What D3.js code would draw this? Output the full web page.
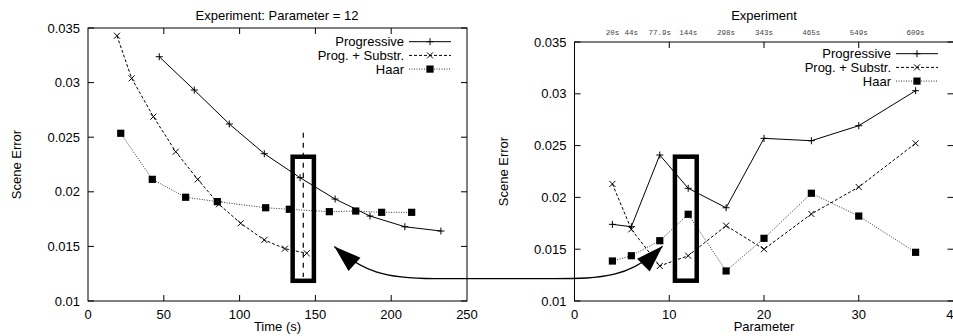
<!DOCTYPE html>
<html>
<head>
<meta charset="utf-8">
<script src="https://cdn.jsdelivr.net/npm/d3@7"></script>
<style>
  body { margin: 0; background: #fff; }
  text { font-family: "Liberation Sans", Arial, sans-serif; fill: #000; }
</style>
</head>
<body>
<svg id="chart" width="953" height="336"></svg>
<script>
// ---- left panel: error over time, parameter = 12
const timeProg  = [47, 70.1, 93.2, 116.3, 139.9, 163, 186, 209, 232.8];
const errProg   = [0.03237, 0.02932, 0.02621, 0.02349, 0.02129, 0.01934, 0.01778, 0.0168, 0.01641];
const timeSub   = [19.1, 28.8, 43.1, 57.9, 72.4, 86.4, 100.7, 116.3, 129.9, 144.3];
const errSub    = [0.03429, 0.03039, 0.02688, 0.02367, 0.02114, 0.01886, 0.01712, 0.01559, 0.01479, 0.01437];
const timeHaar  = [21.6, 42.4, 64.4, 85.3, 117.2, 132.8, 159.2, 176.6, 193.7, 213.5];
const errHaar   = [0.02536, 0.02114, 0.0195, 0.0191, 0.01854, 0.0184, 0.01818, 0.01824, 0.01812, 0.01812];
const timeTicks = [0, 50, 100, 150, 200, 250];

// ---- right panel: error per parameter
const params      = [4, 6, 9, 12, 16, 20, 25, 30, 36];
const paramTimes  = ['20s', '44s', '77.9s', '144s', '298s', '343s', '465s', '549s', '609s'];
const errProgP    = [0.0174, 0.01717, 0.02409, 0.02088, 0.019, 0.0257, 0.02547, 0.02692, 0.0303];
const errSubP     = [0.0213, 0.01692, 0.01338, 0.01437, 0.01727, 0.015, 0.0184, 0.021, 0.02522];
const errHaarP    = [0.01386, 0.01437, 0.01582, 0.01837, 0.0129, 0.01605, 0.0204, 0.0182, 0.0147];
const paramTicks  = [0, 10, 20, 30, 40];

const errTicks = [0.01, 0.015, 0.02, 0.025, 0.03, 0.035];
const seriesNames = ['Progressive', 'Prog. + Substr.', 'Haar'];

// annotations (data units of each panel)
const markTime = 142;              // vertical marker, left panel
const markSpan = [0.0122, 0.0254];
const boxLeft  = {x: [135, 149], y: [0.01185, 0.02321]};
const boxRight = {x: [10.6, 12.9], y: [0.01196, 0.02393]};
const arrowFrom = [162.5, 0.0150];  // left panel
const arrowTo   = [9.3, 0.0153];    // right panel
const arrowLevel = 0.0121;

const styles = [
  {dash: null, marker: 'plus', color: '#000'},
  {dash: '3,2', marker: 'cross', color: '#000'},
  {dash: '1,1.5', marker: 'square', color: '#333'}
];

const svg = d3.select('#chart');

svg.append('defs').append('marker')
  .attr('id', 'head')
  .attr('viewBox', '-28 -10 29 20')
  .attr('refX', 0).attr('refY', 0)
  .attr('markerUnits', 'userSpaceOnUse')
  .attr('markerWidth', 29).attr('markerHeight', 20)
  .attr('orient', 'auto-start-reverse')
  .append('path').attr('d', 'M0,0L-27,-9L-27,9Z').attr('fill', '#000');

function drawMarker(g, type, x, y) {
  if (type === 'plus') {
    g.append('path').attr('d', `M${x-3.5},${y}H${x+3.5}M${x},${y-3.5}V${y+3.5}`)
      .attr('stroke', '#000').attr('stroke-width', 1);
  } else if (type === 'cross') {
    g.append('path').attr('d', `M${x-3},${y-3}L${x+3},${y+3}M${x-3},${y+3}L${x+3},${y-3}`)
      .attr('stroke', '#000').attr('stroke-width', 1);
  } else {
    g.append('rect').attr('x', x-3.6).attr('y', y-3.6).attr('width', 7.2).attr('height', 7.2)
      .attr('fill', '#000');
  }
}

function panel(opt) {
  const x = d3.scaleLinear().domain(opt.xDomain).range(opt.xRange);
  const y = d3.scaleLinear().domain([0.01, 0.035]).range([301, opt.top]);
  const g = svg.append('g');
  const [x0, x1] = opt.xRange, y0 = 301, y1 = opt.top;

  // frame
  g.append('rect').attr('x', x0).attr('y', y1).attr('width', x1 - x0).attr('height', y0 - y1)
    .attr('fill', 'none').attr('stroke', '#000').attr('stroke-width', 1);

  // y ticks, mirrored on the right
  errTicks.forEach(v => {
    const yy = y(v);
    g.append('path').attr('d', `M${x0},${yy}h6M${x1},${yy}h-6`).attr('stroke', '#000');
    g.append('text').attr('x', x0 - 8).attr('y', yy + 4.5).attr('text-anchor', 'end')
      .style('font-size', '13px').text(v);
  });
  // x ticks, mirrored on top
  opt.xTicks.forEach(v => {
    const xx = x(v);
    if (v !== opt.xDomain[0] && v !== opt.xDomain[1])
      g.append('path').attr('d', `M${xx},${y0}v-6M${xx},${y1}v6`).attr('stroke', '#000');
    g.append('text').attr('x', xx).attr('y', 318.5).attr('text-anchor', 'middle')
      .style('font-size', '13px').text(v);
  });

  // labels
  g.append('text').attr('x', (x0 + x1) / 2).attr('y', 331).attr('text-anchor', 'middle')
    .style('font-size', '13px').text(opt.xLabel);
  g.append('text').attr('transform', `translate(${opt.yLabelX},${(y0 + y1) / 2}) rotate(-90)`)
    .attr('text-anchor', 'middle').style('font-size', '13px').text('Scene Error');
  g.append('text').attr('x', opt.titleX).attr('y', 20).attr('text-anchor', 'middle')
    .style('font-size', '13px').text(opt.title);

  // series
  const line = d3.line().x(d => x(d[0])).y(d => y(d[1]));
  opt.series.forEach((s, i) => {
    const pts = d3.zip(s.xs, s.ys);
    g.append('path').attr('d', line(pts)).attr('fill', 'none')
      .attr('stroke', styles[i].color).attr('stroke-width', 1)
      .attr('stroke-dasharray', styles[i].dash);
    pts.forEach(p => drawMarker(g, styles[i].marker, x(p[0]), y(p[1])));
  });

  // legend
  seriesNames.forEach((name, i) => {
    const ly = opt.legendY + i * 13.7;
    g.append('text').attr('x', opt.legendX).attr('y', ly + 4.5).attr('text-anchor', 'end')
      .style('font-size', '13px').text(name);
    g.append('line').attr('x1', opt.legendX + 5).attr('x2', opt.legendX + 47)
      .attr('y1', ly).attr('y2', ly).attr('stroke', styles[i].color)
      .attr('stroke-dasharray', styles[i].dash);
    drawMarker(g, styles[i].marker, opt.legendX + 26, ly);
  });

  // highlight box
  g.append('rect')
    .attr('x', x(opt.box.x[0])).attr('y', y(opt.box.y[1]))
    .attr('width', x(opt.box.x[1]) - x(opt.box.x[0]))
    .attr('height', y(opt.box.y[0]) - y(opt.box.y[1]))
    .attr('fill', 'none').attr('stroke', '#000').attr('stroke-width', 4.5);

  return {x, y, g};
}

const left = panel({
  xDomain: [0, 250], xRange: [88, 467], top: 28, xTicks: timeTicks,
  xLabel: 'Time (s)', yLabelX: 21, title: 'Experiment: Parameter = 12', titleX: 277,
  legendX: 404, legendY: 41.7, box: boxLeft,
  series: [
    {xs: timeProg, ys: errProg},
    {xs: timeSub, ys: errSub},
    {xs: timeHaar, ys: errHaar}
  ]
});

const right = panel({
  xDomain: [0, 40], xRange: [574.5, 953.5], top: 42, xTicks: paramTicks,
  xLabel: 'Parameter', yLabelX: 508, title: 'Experiment', titleX: 764,
  legendX: 891, legendY: 53.7, box: boxRight,
  series: [
    {xs: params, ys: errProgP},
    {xs: params, ys: errSubP},
    {xs: params, ys: errHaarP}
  ]
});

// time labels on top axis of right panel
params.forEach((p, i) => {
  right.g.append('text').attr('x', right.x(p)).attr('y', 34.5).attr('text-anchor', 'middle')
    .style('font-family', '"Liberation Mono", "DejaVu Sans Mono", monospace')
    .style('font-size', '7.5px').style('fill', '#444').text(paramTimes[i]);
});

// vertical marker at the chosen time
left.g.append('line')
  .attr('x1', left.x(markTime)).attr('x2', left.x(markTime))
  .attr('y1', left.y(markSpan[1])).attr('y2', left.y(markSpan[0]))
  .attr('stroke', '#000').attr('stroke-width', 1.2).attr('stroke-dasharray', '5,5');

// double-headed curved arrow linking both panels
const a = [left.x(arrowFrom[0]), left.y(arrowFrom[1])];
const b = [right.x(arrowTo[0]), right.y(arrowTo[1])];
const hy = (left.y(arrowLevel) + right.y(arrowLevel)) / 2;
const arrowPath = d3.path();
arrowPath.moveTo(a[0], a[1]);
arrowPath.bezierCurveTo(a[0] + 28, a[1] + 25, a[0] + 50, hy, a[0] + 100, hy);
arrowPath.lineTo(b[0] - 110, hy);
arrowPath.bezierCurveTo(b[0] - 60, hy, b[0] - 32, hy - 1, b[0], b[1]);
svg.append('path').attr('d', arrowPath.toString())
  .attr('fill', 'none').attr('stroke', '#000').attr('stroke-width', 1.3)
  .attr('marker-start', 'url(#head)').attr('marker-end', 'url(#head)');
</script>
</body>
</html>
